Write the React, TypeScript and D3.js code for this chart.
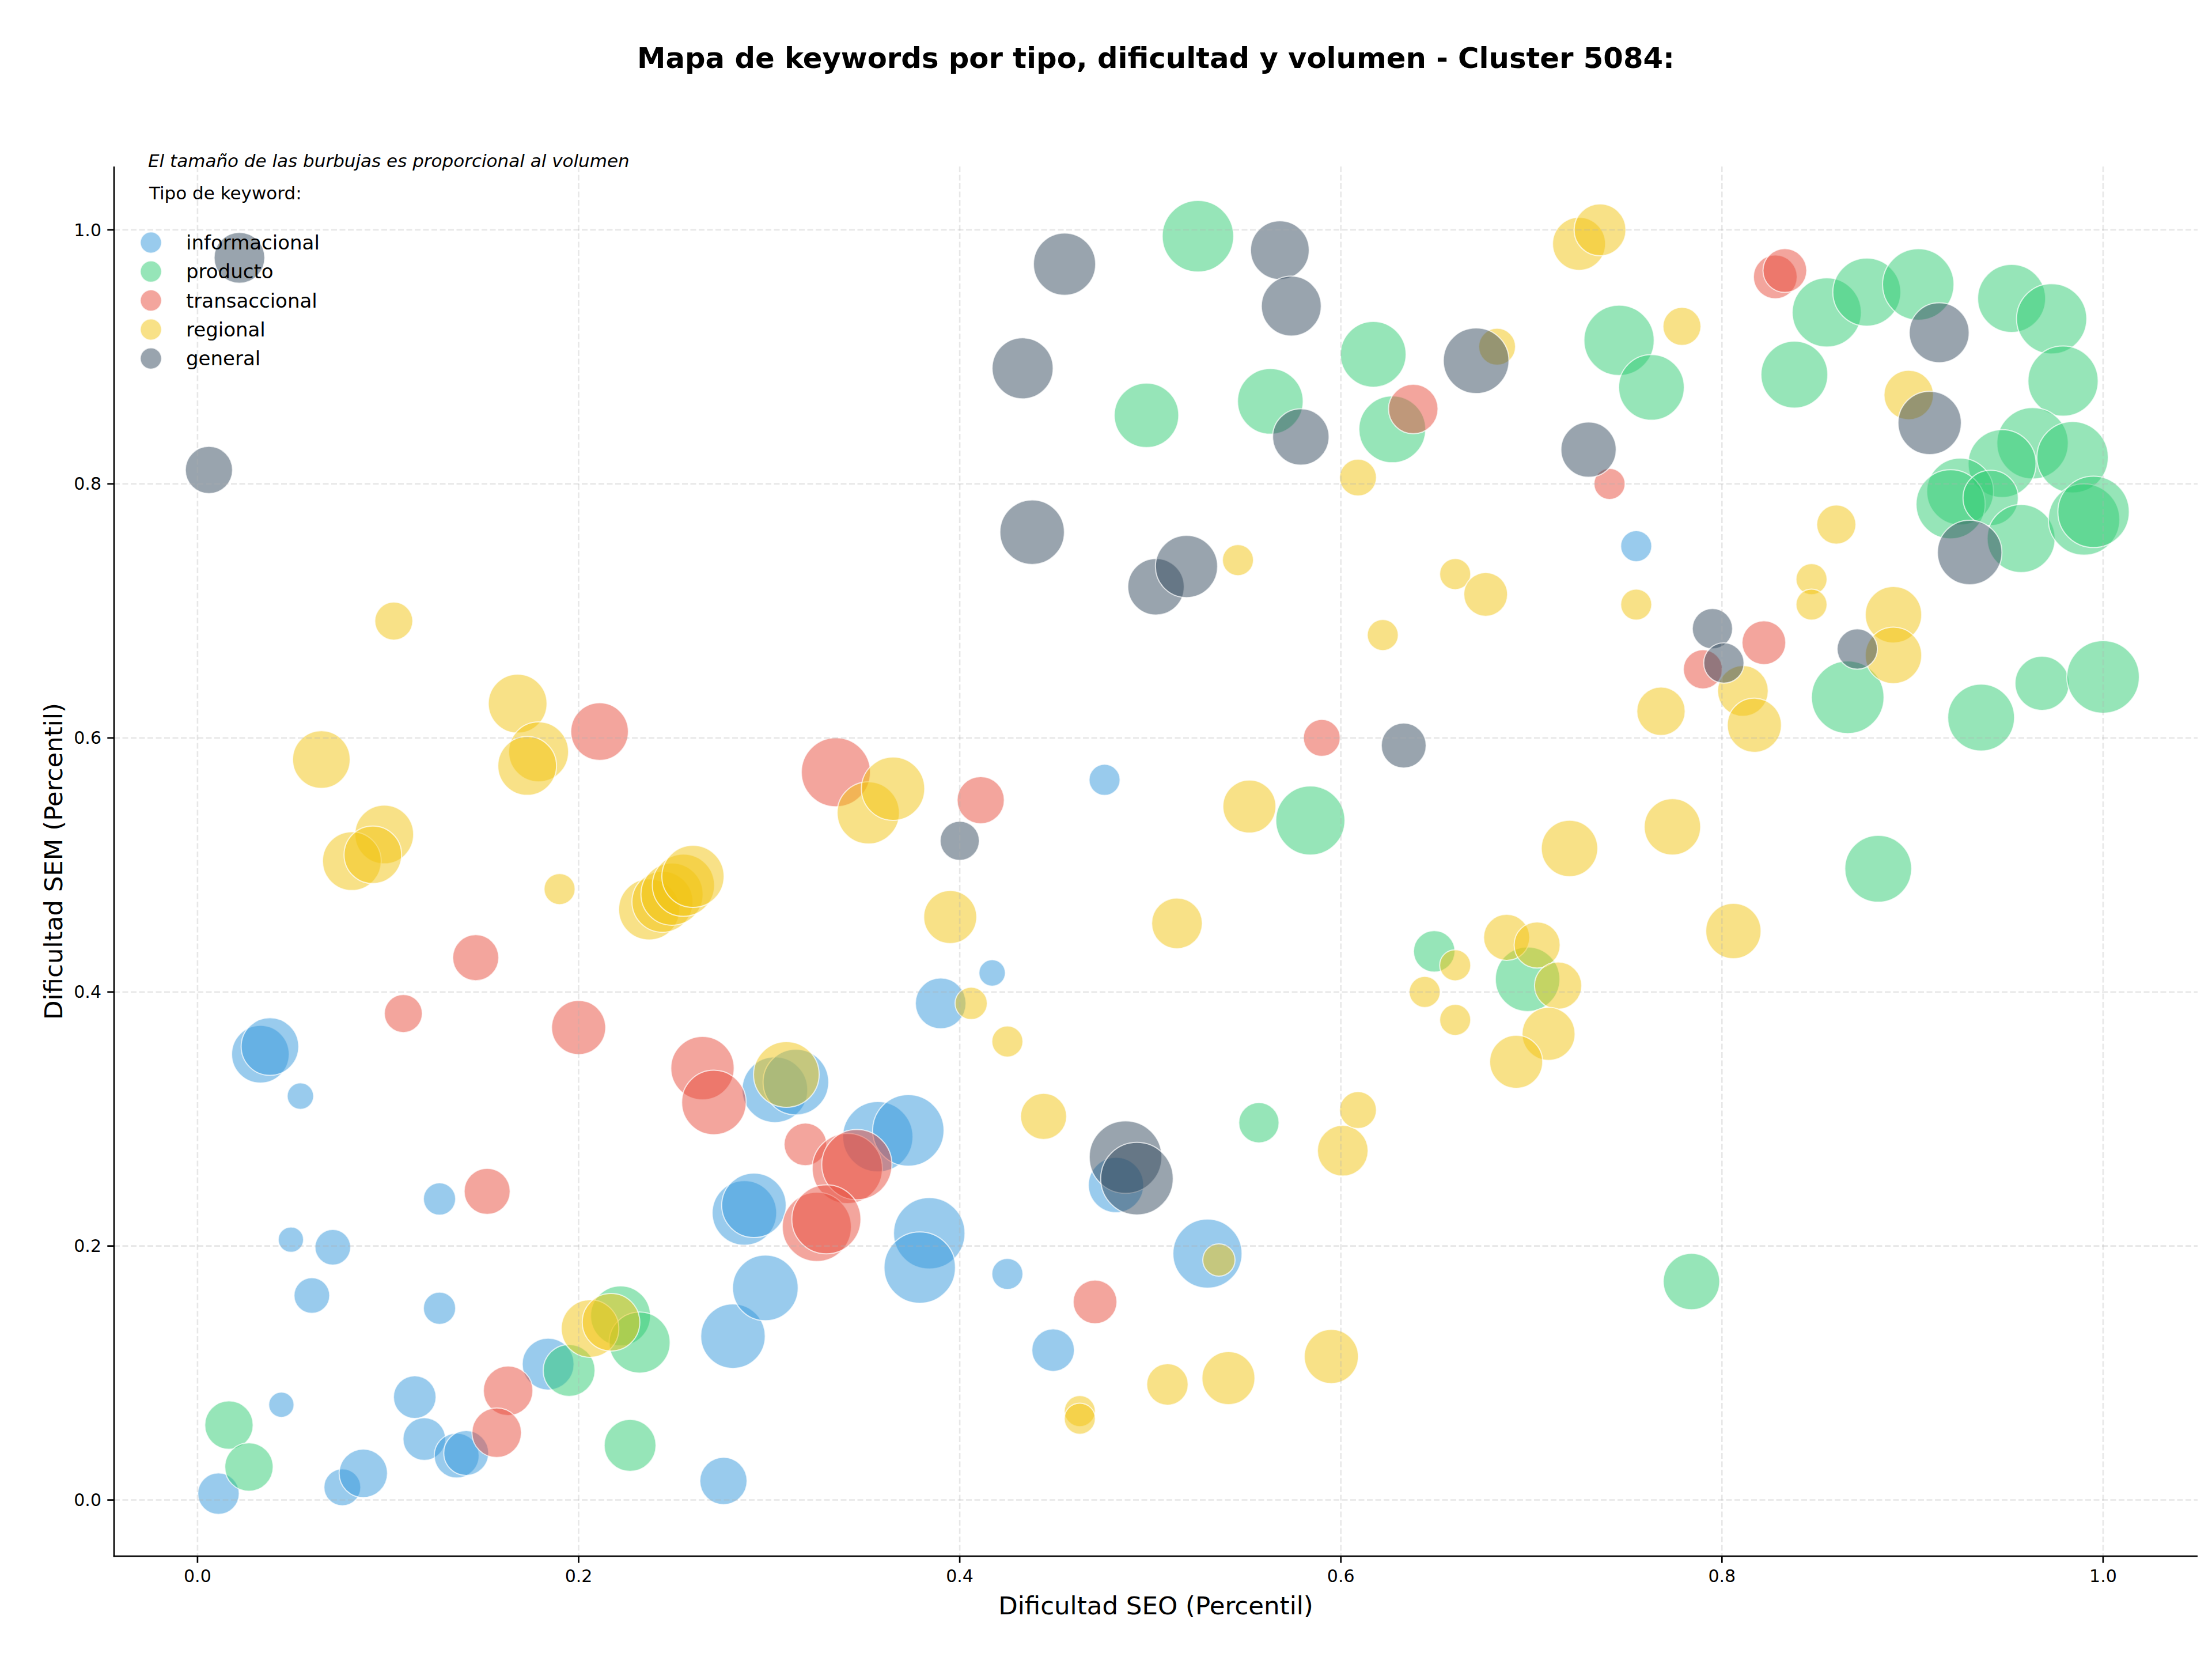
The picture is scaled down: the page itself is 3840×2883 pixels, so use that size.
import React from 'react';
import * as d3 from 'd3';

// [dificultad SEO, dificultad SEM, volumen]
const informacional: [number, number, number][] = [
  [0.011, 0.005, 324], [0.033, 0.351, 625], [0.038, 0.357, 625], [0.054, 0.318, 132],
  [0.049, 0.205, 121], [0.071, 0.199, 240], [0.06, 0.161, 240], [0.127, 0.237, 196],
  [0.127, 0.151, 196], [0.044, 0.075, 121], [0.076, 0.01, 256], [0.087, 0.021, 441],
  [0.114, 0.081, 342], [0.119, 0.048, 342], [0.136, 0.035, 380], [0.141, 0.037, 380],
  [0.184, 0.107, 506], [0.276, 0.015, 420], [0.281, 0.129, 784], [0.298, 0.167, 812],
  [0.287, 0.226, 784], [0.292, 0.232, 784], [0.303, 0.323, 812], [0.314, 0.329, 812],
  [0.357, 0.286, 930], [0.373, 0.291, 961], [0.384, 0.21, 961], [0.379, 0.183, 961],
  [0.39, 0.391, 484], [0.417, 0.415, 132], [0.425, 0.178, 182], [0.449, 0.118, 342],
  [0.482, 0.248, 576], [0.476, 0.567, 182], [0.53, 0.194, 900], [0.755, 0.751, 182],
];

const producto: [number, number, number][] = [
  [0.0165, 0.059, 441], [0.027, 0.026, 441], [0.195, 0.102, 506], [0.222, 0.145, 676],
  [0.232, 0.124, 702], [0.227, 0.043, 506], [0.498, 0.854, 784], [0.525, 0.995, 961],
  [0.563, 0.865, 812], [0.584, 0.535, 900], [0.557, 0.297, 306], [0.617, 0.902, 812],
  [0.627, 0.843, 841], [0.649, 0.432, 324], [0.698, 0.41, 784], [0.746, 0.913, 930],
  [0.763, 0.876, 812], [0.784, 0.172, 600], [0.838, 0.886, 841], [0.855, 0.935, 900],
  [0.876, 0.951, 870], [0.903, 0.957, 961], [0.952, 0.946, 870], [0.973, 0.93, 930],
  [0.979, 0.881, 930], [0.963, 0.832, 961], [0.947, 0.816, 870], [0.984, 0.821, 961],
  [0.925, 0.794, 841], [0.92, 0.784, 900], [0.941, 0.789, 576], [0.957, 0.757, 870],
  [0.99, 0.772, 961], [0.995, 0.778, 961], [0.866, 0.632, 992], [0.936, 0.616, 841],
  [0.968, 0.643, 552], [1.0, 0.648, 992], [0.882, 0.497, 841],
];

const transaccional: [number, number, number][] = [
  [0.108, 0.383, 272], [0.146, 0.427, 400], [0.2, 0.372, 552], [0.211, 0.605, 625],
  [0.152, 0.243, 400], [0.163, 0.086, 462], [0.157, 0.053, 462], [0.265, 0.34, 756],
  [0.271, 0.313, 784], [0.319, 0.28, 342], [0.341, 0.261, 930], [0.346, 0.264, 930],
  [0.325, 0.215, 900], [0.33, 0.221, 900], [0.335, 0.573, 900], [0.411, 0.551, 420],
  [0.471, 0.156, 361], [0.59, 0.6, 256], [0.638, 0.859, 462], [0.741, 0.8, 182],
  [0.79, 0.654, 289], [0.822, 0.675, 361], [0.828, 0.963, 361], [0.833, 0.968, 361],
];

const regional: [number, number, number][] = [
  [0.103, 0.692, 272], [0.065, 0.583, 625], [0.098, 0.524, 650], [0.081, 0.503, 650],
  [0.092, 0.508, 625], [0.168, 0.627, 650], [0.179, 0.589, 676], [0.173, 0.578, 650],
  [0.19, 0.481, 182], [0.237, 0.465, 702], [0.244, 0.471, 702], [0.249, 0.477, 729],
  [0.255, 0.484, 729], [0.26, 0.491, 729], [0.206, 0.135, 625], [0.217, 0.14, 625],
  [0.309, 0.335, 812], [0.352, 0.541, 729], [0.365, 0.56, 756], [0.395, 0.459, 529],
  [0.406, 0.391, 196], [0.425, 0.361, 182], [0.444, 0.302, 400], [0.463, 0.07, 182],
  [0.463, 0.064, 182], [0.509, 0.091, 324], [0.541, 0.096, 529], [0.536, 0.189, 196],
  [0.595, 0.113, 552], [0.514, 0.454, 484], [0.546, 0.74, 182], [0.552, 0.546, 529],
  [0.601, 0.275, 484], [0.609, 0.307, 256], [0.609, 0.805, 256], [0.622, 0.681, 182],
  [0.66, 0.729, 182], [0.676, 0.713, 361], [0.682, 0.908, 256], [0.644, 0.4, 182],
  [0.66, 0.421, 182], [0.66, 0.378, 182], [0.687, 0.443, 400], [0.703, 0.437, 400],
  [0.714, 0.405, 420], [0.709, 0.367, 529], [0.692, 0.345, 529], [0.72, 0.513, 600],
  [0.725, 0.989, 529], [0.736, 1.0, 506], [0.755, 0.705, 182], [0.768, 0.621, 441],
  [0.774, 0.53, 600], [0.779, 0.924, 272], [0.806, 0.448, 576], [0.811, 0.637, 484],
  [0.817, 0.61, 552], [0.847, 0.725, 182], [0.847, 0.705, 182], [0.86, 0.768, 289],
  [0.89, 0.697, 600], [0.89, 0.665, 600], [0.898, 0.87, 462],
];

const general: [number, number, number][] = [
  [0.006, 0.811, 420], [0.022, 0.978, 484], [0.4, 0.519, 289], [0.433, 0.891, 702],
  [0.438, 0.762, 784], [0.455, 0.973, 729], [0.487, 0.27, 992], [0.493, 0.253, 992],
  [0.503, 0.719, 600], [0.519, 0.735, 729], [0.568, 0.984, 650], [0.574, 0.94, 676],
  [0.579, 0.837, 600], [0.633, 0.594, 380], [0.671, 0.897, 812], [0.73, 0.827, 576],
  [0.795, 0.686, 306], [0.801, 0.659, 306], [0.871, 0.67, 306], [0.909, 0.848, 756],
  [0.914, 0.919, 676], [0.93, 0.746, 784],
];

const tipos = ['informacional', 'producto', 'transaccional', 'regional', 'general'];
const colores = ['#3498db', '#2ecc71', '#e74c3c', '#f1c40f', '#34495e'];
const series = [informacional, producto, transaccional, regional, general];
const ticks = [0, 0.2, 0.4, 0.6, 0.8, 1.0];

const W = 3840;
const H = 2883;
const FONT = 'DejaVu Sans, sans-serif';

export default function App() {
  const left = 198, right = 3815, top = 289, bottom = 2701;
  const x = d3.scaleLinear().domain([-0.0438, 1.0496]).range([left, right]);
  const y = d3.scaleLinear().domain([-0.0442, 1.0499]).range([bottom, top]);
  const r = d3.scaleSqrt().domain([0, 1000]).range([0, 63.2]);
  const fmt = d3.format('.1f');

  return (
    <svg width={W} height={H} style={{ position: 'absolute', left: 0, top: 0, background: '#fff' }}
      fontFamily={FONT}>
      <rect width={W} height={H} fill="#fff" />

      <text x={(left + right) / 2} y={118} textAnchor="middle" fontSize={49.7} fontWeight="bold">
        Mapa de keywords por tipo, dificultad y volumen - Cluster 5084:
      </text>

      {/* burbujas, en el orden de la leyenda */}
      {series.map((pts, i) => (
        <g key={tipos[i]}>
          {pts.map((d, j) => (
            <circle key={j} cx={x(d[0])} cy={y(d[1])} r={r(d[2])}
              fill={colores[i]} fillOpacity={0.5}
              stroke="#fff" strokeOpacity={0.7} strokeWidth={2} />
          ))}
        </g>
      ))}

      {/* rejilla por encima, como matplotlib */}
      {ticks.map(t => (
        <g key={'g' + t} stroke="#b0b0b0" strokeOpacity={0.3} strokeWidth={2.6} strokeDasharray="10,4.5">
          <line x1={x(t)} x2={x(t)} y1={top} y2={bottom} />
          <line x1={left} x2={right} y1={y(t)} y2={y(t)} />
        </g>
      ))}

      {/* ejes */}
      <line x1={left} x2={left} y1={top} y2={bottom + 1.3} stroke="#000" strokeWidth={2.67} />
      <line x1={left - 1.3} x2={right} y1={bottom} y2={bottom} stroke="#000" strokeWidth={2.67} />
      {ticks.map(t => (
        <g key={'x' + t}>
          <line x1={x(t)} x2={x(t)} y1={bottom} y2={bottom + 11.7} stroke="#000" strokeWidth={2.67} />
          <text x={x(t)} y={bottom + 45} textAnchor="middle" fontSize={30}>{fmt(t)}</text>
        </g>
      ))}
      {ticks.map(t => (
        <g key={'y' + t}>
          <line x1={left - 11.7} x2={left} y1={y(t)} y2={y(t)} stroke="#000" strokeWidth={2.67} />
          <text x={left - 22} y={y(t)} dy="0.35em" textAnchor="end" fontSize={30}>{fmt(t)}</text>
        </g>
      ))}

      <text x={(left + right) / 2} y={2802} textAnchor="middle" fontSize={43.5}>
        Dificultad SEO (Percentil)
      </text>
      <text transform={`translate(${93},${(top + bottom) / 2}) rotate(-90)`} textAnchor="middle"
        dy="0.35em" fontSize={43.5}>
        Dificultad SEM (Percentil)
      </text>

      {/* notas y leyenda */}
      <text x={257} y={290} fontSize={31} fontStyle="italic">
        El tamaño de las burbujas es proporcional al volumen
      </text>
      <text x={259} y={346} fontSize={31}>Tipo de keyword:</text>
      {tipos.map((t, i) => (
        <g key={'l' + t}>
          <circle cx={262} cy={421 + i * 50.3} r={18.5} fill={colores[i]} fillOpacity={0.5}
            stroke="#fff" strokeOpacity={0.7} strokeWidth={2} />
          <text x={323} y={421 + i * 50.3} dy="0.35em" fontSize={34}>{t}</text>
        </g>
      ))}
    </svg>
  );
}
